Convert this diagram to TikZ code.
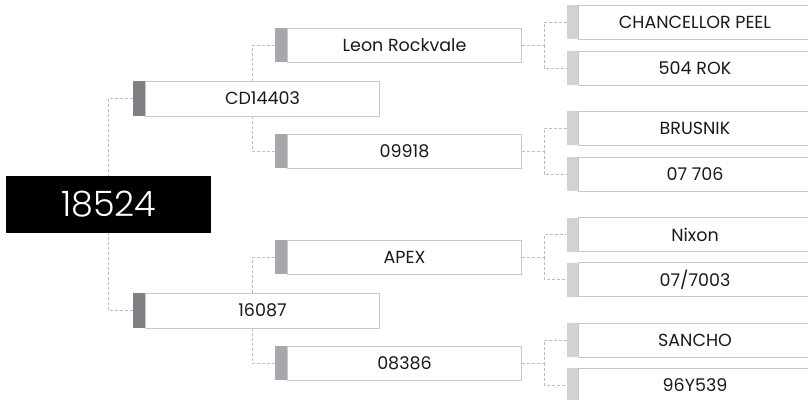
\documentclass[tikz,border=0pt]{standalone}
\usepackage{fontspec}
\setmainfont{Poppins}
\newfontfamily\lightfont{Poppins Light}
\usetikzlibrary{backgrounds}
\definecolor{tabA}{RGB}{128,128,132}
\definecolor{tabB}{RGB}{168,168,172}
\definecolor{tabC}{RGB}{210,210,212}
\definecolor{boxline}{RGB}{200,200,202}
\definecolor{connline}{RGB}{190,190,192}
\definecolor{txt}{RGB}{26,26,26}
\tikzset{
  rootbox/.style={fill=black, text=white, anchor=west, minimum width=205pt, minimum height=57pt, inner sep=0pt, font=\lightfont\fontsize{35}{35}\selectfont},
  tabbase/.style={anchor=west, inner sep=0pt, minimum width=12pt},
  tabone/.style={tabbase, fill=tabA, minimum height=35pt},
  tabtwo/.style={tabbase, fill=tabB, minimum height=34pt},
  tabthree/.style={tabbase, fill=tabC, minimum height=34pt, minimum width=11pt},
  boxbase/.style={anchor=west, draw=boxline, line width=1pt, fill=white, inner sep=0pt, text=txt, font=\fontsize{17.5}{20}\selectfont},
  boxone/.style={boxbase, minimum width=234pt, minimum height=35pt},
  boxtwo/.style={boxbase, minimum width=234pt, minimum height=34pt},
  boxthree/.style={boxbase, minimum width=233pt, minimum height=34pt},
  conn/.style={draw=connline, line width=0.9pt, dash pattern=on 3pt off 2pt}
}
\begin{document}
\begin{tikzpicture}[x=1pt,y=-1pt]
\useasboundingbox (0,0) rectangle (808,399);
\clip (0,0) rectangle (808,399);
% root
\node[rootbox] (root) at (6,204.5) {18524};
% level 1
\node[tabone] (cdtab) at (133,98.5) {};
\node[boxone] (cd) at (145,98.5) {CD14403};
\node[tabone] (sixtab) at (133,310.5) {};
\node[boxone] (six) at (145,310.5) {16087};
% level 2
\node[tabtwo] (leontab) at (275,45.25) {};
\node[boxtwo] (leon) at (287,45.25) {Leon Rockvale};
\node[tabtwo] (ninetab) at (275,151.25) {};
\node[boxtwo] (nine) at (287,151.25) {09918};
\node[tabtwo] (apextab) at (275,257) {};
\node[boxtwo] (apex) at (287,257) {APEX};
\node[tabtwo] (eighttab) at (275,363) {};
\node[boxtwo] (eight) at (287,363) {08386};
% level 3
\node[tabthree] (cptab) at (567,22) {};
\node[boxthree] (cp) at (578,22) {CHANCELLOR PEEL};
\node[tabthree] (roktab) at (567,68) {};
\node[boxthree] (rok) at (578,68) {504 ROK};
\node[tabthree] (brustab) at (567,128) {};
\node[boxthree] (brus) at (578,128) {BRUSNIK};
\node[tabthree] (svntab) at (567,174) {};
\node[boxthree] (svn) at (578,174) {07 706};
\node[tabthree] (nixtab) at (567,234.5) {};
\node[boxthree] (nix) at (578,234.5) {Nixon};
\node[tabthree] (sslashtab) at (567,279.5) {};
\node[boxthree] (sslash) at (578,279.5) {07/7003};
\node[tabthree] (sanctab) at (567,340) {};
\node[boxthree] (sanc) at (578,340) {SANCHO};
\node[tabthree] (nsixtab) at (567,385) {};
\node[boxthree] (nsix) at (578,385) {96Y539};
% connectors
\begin{pgfonlayer}{background}
\fill[white] (0,0) rectangle (808,399);
\draw[conn] (cdtab.west) -| (root.north);
\draw[conn] (sixtab.west) -| (root.south);
\draw[conn] (leontab.west) -| ([xshift=-10pt]cd.north);
\draw[conn] (ninetab.west) -| ([xshift=-10pt]cd.south);
\draw[conn] (apextab.west) -| ([xshift=-10pt]six.north);
\draw[conn] (eighttab.west) -| ([xshift=-10pt]six.south);
\draw[conn] (leon.east) -- ++(22,0) coordinate (ja) |- (cptab.west);
\draw[conn] (ja) |- (roktab.west);
\draw[conn] (nine.east) -- ++(22,0) coordinate (jb) |- (brustab.west);
\draw[conn] (jb) |- (svntab.west);
\draw[conn] (apex.east) -- ++(22,0) coordinate (jc) |- (nixtab.west);
\draw[conn] (jc) |- (sslashtab.west);
\draw[conn] (eight.east) -- ++(22,0) coordinate (jd) |- (sanctab.west);
\draw[conn] (jd) |- (nsixtab.west);
\end{pgfonlayer}
\end{tikzpicture}
\end{document}
